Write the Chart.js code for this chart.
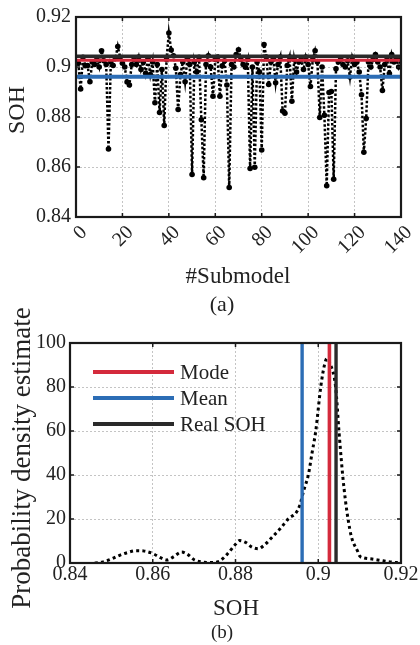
<!DOCTYPE html>
<html lang="en">
<head>
<meta charset="UTF-8">
<title>SOH of submodels</title>
<script src="https://cdn.jsdelivr.net/npm/chart.js"></script>
<style>
    body {
        margin: 0;
        padding: 0;
        background: #fff;
        font-family: "Liberation Serif", "DejaVu Serif", serif;
        color: #222;
    }
    .wrap { position: relative; width: 420px; height: 645px; overflow: hidden; }
    canvas { position: absolute; left: 0; }
    #topChart { top: 0; }
    #bottomChart { top: 320px; }
    .lbl {
        position: absolute;
        white-space: nowrap;
        line-height: 1;
        transform: translate(-50%, -50%);
    }
    .vlbl { transform: translate(-50%, -50%) rotate(-90deg); }
    .swatch { position: absolute; left: 93px; width: 81px; height: 3.5px; }
    .legtxt { position: absolute; left: 180px; font-size: 21px; line-height: 1; transform: translateY(-50%); }
</style>
</head>
<body>
<div class="wrap">
    <canvas id="topChart" width="420" height="300"></canvas>
    <canvas id="bottomChart" width="420" height="325"></canvas>

    <!-- axis titles -->
    <div class="lbl vlbl" style="left:16px; top:110px; font-size:24px;">SOH</div>
    <div class="lbl" style="left:238px; top:275px; font-size:23px;">#Submodel</div>
    <div class="lbl" style="left:222px; top:304px; font-size:22px;">(a)</div>
    <div class="lbl vlbl" style="left:21px; top:458px; font-size:27px;">Probability density estimate</div>
    <div class="lbl" style="left:236px; top:607px; font-size:23px;">SOH</div>
    <div class="lbl" style="left:222px; top:631px; font-size:19px;">(b)</div>

    <!-- legend of (b) -->
    <div class="swatch" style="top:370px; background:#d42a3c;"></div>
    <div class="legtxt" style="top:372px;">Mode</div>
    <div class="swatch" style="top:396px; background:#2c6db5;"></div>
    <div class="legtxt" style="top:398px;">Mean</div>
    <div class="swatch" style="top:422px; background:#2a2a2a;"></div>
    <div class="legtxt" style="top:424px;">Real SOH</div>
</div>

<script>
    // tick labels
    const sohTicks = [0.84, 0.86, 0.88, 0.9, 0.92];
    const submodelTicks = [0, 20, 40, 60, 80, 100, 120, 140];
    const densityTicks = [0, 20, 40, 60, 80, 100];

    // SOH estimated by each submodel (#1 .. #140)
    const submodelSoh = [
        0.9015, 0.8912, 0.9039, 0.9005, 0.9006, 0.8941, 0.9020, 0.9010, 0.9030, 0.9000,
        0.9065, 0.9025, 0.9010, 0.8672, 0.9020, 0.9006, 0.9035, 0.9082, 0.9039, 0.9015,
        0.9000, 0.8940, 0.8928, 0.9010, 0.9030, 0.9010, 0.9040, 0.8990, 0.9020, 0.8975,
        0.9035, 0.8970, 0.9020, 0.8857, 0.9010, 0.8818, 0.8990, 0.8766, 0.9030, 0.9136,
        0.9068, 0.9045, 0.8995, 0.8830, 0.8970, 0.9020, 0.8941, 0.9035, 0.9010, 0.8570,
        0.9020, 0.8980, 0.9039, 0.8789, 0.8557, 0.9010, 0.9045, 0.9000, 0.8883, 0.9030,
        0.9040, 0.8883, 0.9005, 0.9025, 0.8928, 0.8518, 0.9010, 0.9000, 0.9050, 0.9069,
        0.9030, 0.9010, 0.8999, 0.9030, 0.8594, 0.9000, 0.8599, 0.9020, 0.8980, 0.8668,
        0.9090, 0.9040, 0.8930, 0.9020, 0.9035, 0.8937, 0.9010, 0.9040, 0.8824, 0.8815,
        0.9006, 0.9040, 0.8863, 0.9030, 0.8980, 0.9020, 0.9030, 0.8990, 0.9040, 0.9010,
        0.8922, 0.9030, 0.9065, 0.9020, 0.8798, 0.9000, 0.8807, 0.8525, 0.8898, 0.8902,
        0.8551, 0.8993, 0.9020, 0.9036, 0.9010, 0.9000, 0.9025, 0.8960, 0.9039, 0.9010,
        0.9020, 0.8980, 0.8889, 0.8659, 0.8794, 0.9020, 0.9000, 0.9030, 0.9050, 0.9020,
        0.9000, 0.8906, 0.9010, 0.9030, 0.8974, 0.9050, 0.9020, 0.9030, 0.9000, 0.9030
    ];

    const modeSoh = 0.9027;
    const meanSoh = 0.8961;
    const realSoh = 0.9043;

    // kernel density of the submodel SOH values
    const pdfSoh = [
        0.846, 0.848, 0.850, 0.852, 0.854, 0.856, 0.858, 0.860, 0.862, 0.8635,
        0.865, 0.867, 0.8685, 0.870, 0.872, 0.874, 0.876, 0.878, 0.880, 0.881,
        0.8825, 0.884, 0.8855, 0.887, 0.889, 0.891, 0.893, 0.8945, 0.8955, 0.8965,
        0.8976, 0.8985, 0.8994, 0.9006, 0.9015, 0.9021, 0.903, 0.9042, 0.905, 0.9059,
        0.9066, 0.9072, 0.908, 0.9096, 0.910, 0.911, 0.913, 0.915, 0.917, 0.919, 0.920
    ];
    const pdfValue = [
        0, 0.5, 1.8, 3.5, 4.8, 5.6, 5.4, 4.3, 2.3, 1.4,
        2.8, 5, 3.8, 1.5, 0.4, 0.2, 0.8, 4, 8.5, 10.2,
        9.3, 7.2, 6.5, 8.2, 12, 16, 20.5, 22.5, 26, 33,
        40, 50, 60, 80, 90, 93, 90, 80, 60, 40,
        28, 20, 12, 5, 3.2, 2.3, 1.8, 1.2, 0.6, 0.2, 0.1
    ];

    const RED = '#d42a3c', BLUE = '#2c6db5', DARK = '#2a2a2a';
    const tickFont = { family: 'Liberation Serif', size: 20 };
    const plainNum = v => String(+v.toFixed(2)); // 0.9 instead of 0.90

    // box round the plot and MATLAB-like inner ticks
    const framePlugin = {
        id: 'frame',
        afterDraw(chart) {
            const { ctx, chartArea: a, scales } = chart;
            ctx.save();
            ctx.strokeStyle = '#1a1a1a';
            ctx.lineWidth = 1.5;
            ctx.beginPath();
            scales.x.ticks.forEach(t => {
                const px = scales.x.getPixelForValue(t.value);
                ctx.moveTo(px, a.bottom); ctx.lineTo(px, a.bottom - 4);
                ctx.moveTo(px, a.top); ctx.lineTo(px, a.top + 4);
            });
            scales.y.ticks.forEach(t => {
                const py = scales.y.getPixelForValue(t.value);
                ctx.moveTo(a.left, py); ctx.lineTo(a.left + 4, py);
                ctx.moveTo(a.right, py); ctx.lineTo(a.right - 4, py);
            });
            ctx.stroke();
            ctx.lineWidth = 2.2;
            ctx.strokeRect(a.left, a.top, a.right - a.left, a.bottom - a.top);
            ctx.restore();
        }
    };

    function gridOpts() {
        return { color: '#c4c4c4', lineWidth: 1, drawTicks: false };
    }

    // (a) SOH of every submodel
    const hLine = v => [{ x: 0, y: v }, { x: 140, y: v }];
    new Chart(document.getElementById('topChart'), {
        type: 'line',
        data: {
            datasets: [
                { data: hLine(realSoh), borderColor: DARK, borderWidth: 3.5, pointRadius: 0 },
                { data: hLine(modeSoh), borderColor: RED, borderWidth: 3, pointRadius: 0 },
                { data: hLine(meanSoh), borderColor: BLUE, borderWidth: 3.8, pointRadius: 0 },
                {
                    data: submodelSoh.map((v, i) => ({ x: i + 1, y: v })),
                    borderColor: '#000',
                    borderWidth: 2.5,
                    borderDash: [2.5, 2],
                    pointRadius: 2.8,
                    pointBackgroundColor: '#000',
                    pointBorderWidth: 0
                }
            ]
        },
        options: {
            responsive: false,
            animation: false,
            layout: { padding: { top: 12, right: 19, left: 0, bottom: 0 } },
            plugins: { legend: { display: false }, tooltip: { enabled: false } },
            scales: {
                x: {
                    type: 'linear', min: 0, max: 140,
                    afterBuildTicks: s => { s.ticks = submodelTicks.map(v => ({ value: v })); },
                    afterFit: s => { s.height = 83; s.paddingLeft = 0; s.paddingRight = 0; },
                    grid: gridOpts(),
                    border: { display: false, dash: [2, 2] },
                    ticks: { font: tickFont, color: '#222', minRotation: 45, maxRotation: 45, labelOffset: 8, padding: 4, autoSkip: false }
                },
                y: {
                    min: 0.84, max: 0.92,
                    afterBuildTicks: s => { s.ticks = sohTicks.map(v => ({ value: v })); },
                    afterFit: s => { s.width = 76; },
                    grid: gridOpts(),
                    border: { display: false, dash: [2, 2] },
                    ticks: { font: tickFont, color: '#222', padding: 5, callback: plainNum }
                }
            }
        },
        plugins: [framePlugin]
    });

    // (b) probability density of the submodel SOH
    const vLine = v => [{ x: v, y: 0 }, { x: v, y: 100 }];
    new Chart(document.getElementById('bottomChart'), {
        type: 'line',
        data: {
            datasets: [
                { data: vLine(realSoh), borderColor: DARK, borderWidth: 3.4, pointRadius: 0 },
                { data: vLine(modeSoh), borderColor: RED, borderWidth: 3.6, pointRadius: 0 },
                { data: vLine(meanSoh), borderColor: BLUE, borderWidth: 3.4, pointRadius: 0 },
                {
                    data: pdfSoh.map((x, i) => ({ x: x, y: pdfValue[i] })),
                    borderColor: '#000',
                    borderWidth: 3,
                    borderDash: [3, 3.2],
                    cubicInterpolationMode: 'monotone',
                    pointRadius: 0
                }
            ]
        },
        options: {
            responsive: false,
            animation: false,
            layout: { padding: { top: 23, right: 19, left: 0, bottom: 0 } },
            plugins: { legend: { display: false }, tooltip: { enabled: false } },
            scales: {
                x: {
                    type: 'linear', min: 0.84, max: 0.92,
                    afterBuildTicks: s => { s.ticks = sohTicks.map(v => ({ value: v })); },
                    afterFit: s => { s.height = 82; s.paddingLeft = 0; s.paddingRight = 0; },
                    grid: gridOpts(),
                    border: { display: false, dash: [2, 2] },
                    ticks: { font: tickFont, color: '#222', maxRotation: 0, padding: 0, autoSkip: false, callback: plainNum }
                },
                y: {
                    min: 0, max: 100,
                    afterBuildTicks: s => { s.ticks = densityTicks.map(v => ({ value: v })); },
                    afterFit: s => { s.width = 70; },
                    grid: gridOpts(),
                    border: { display: false, dash: [2, 2] },
                    ticks: { font: tickFont, color: '#222', padding: 4 }
                }
            }
        },
        plugins: [framePlugin]
    });
</script>
</body>
</html>
